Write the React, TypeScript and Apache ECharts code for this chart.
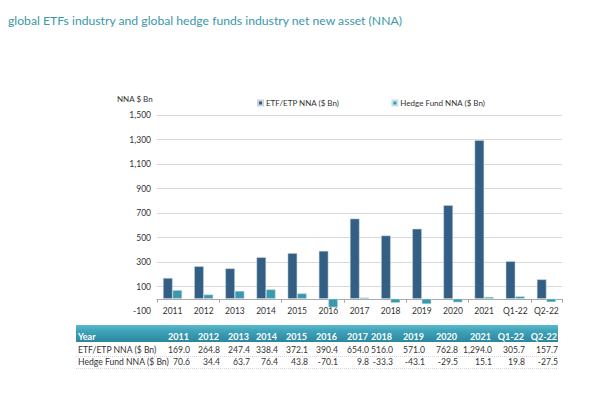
import React, { useEffect, useRef } from "react";
import * as echarts from "echarts";

const categories = ["2011", "2012", "2013", "2014", "2015", "2016", "2017", "2018", "2019", "2020", "2021", "Q1-22", "Q2-22"];
const etfValues = [169.0, 264.8, 247.4, 338.4, 372.1, 390.4, 654.0, 516.0, 571.0, 762.8, 1294.0, 305.7, 157.7];
const hedgeValues = [70.6, 34.4, 63.7, 76.4, 43.8, -70.1, 9.8, -33.3, -43.1, -29.5, 15.1, 19.8, -27.5];
const seriesNames = ["ETF/ETP NNA ($ Bn)", "Hedge Fund NNA ($ Bn)"];
const yTicks = [-100, 100, 300, 500, 700, 900, 1100, 1300, 1500];

// table layout (right edges of columns)
const colRight = [189, 219, 249, 277, 307, 337, 368, 392, 424, 457, 491, 524, 557];

const FONT = "Lato";
const ETF_COLOR = "#345f84";
const HEDGE_COLOR = "#3e98ad";
const TITLE_COLOR = "#3b97aa";

function fmt(v: number) {
  return v.toLocaleString("en-US", { minimumFractionDigits: 1, maximumFractionDigits: 1 });
}

export default function App() {
  const ref = useRef<HTMLDivElement>(null);
  useEffect(() => {
    if (!ref.current) return;
    const chart = echarts.init(ref.current, null, { renderer: "svg" });

    const graphics: any[] = [];
    graphics.push({
      type: "text",
      x: 8,
      y: 20,
      style: { text: "global ETFs industry and global hedge funds industry net new asset (NNA)", fill: TITLE_COLOR, font: `12.2px ${FONT}`, verticalAlign: "middle" },
    });
    graphics.push({
      type: "text",
      x: 117,
      y: 99,
      style: { text: "NNA $ Bn", fill: "#333", font: `8px ${FONT}`, verticalAlign: "middle" },
    });
    // table header bar
    graphics.push({
      type: "rect",
      shape: { x: 76, y: 325, width: 482, height: 17 },
      style: {
        fill: new echarts.graphic.LinearGradient(0, 0, 0, 1, [
          { offset: 0, color: "#5ab9cc" },
          { offset: 0.35, color: "#3fa3ba" },
          { offset: 1, color: "#2a879e" },
        ]),
      },
    });
    graphics.push({
      type: "text",
      x: 78,
      y: 336,
      style: { text: "Year", fill: "#fff", font: `bold 9px ${FONT}`, verticalAlign: "middle" },
    });
    const rows = [
      { label: seriesNames[0], values: etfValues, y: 350 },
      { label: seriesNames[1], values: hedgeValues, y: 362 },
    ];
    categories.forEach((c, i) => {
      graphics.push({
        type: "text",
        x: colRight[i],
        y: 336,
        style: { text: c, fill: "#fff", font: `bold 9px ${FONT}`, align: "right", verticalAlign: "middle" },
      });
    });
    rows.forEach((r) => {
      graphics.push({
        type: "text",
        x: 78,
        y: r.y,
        style: { text: r.label, fill: "#333", font: `8.6px ${FONT}`, verticalAlign: "middle" },
      });
      r.values.forEach((v, i) => {
        graphics.push({
          type: "text",
          x: colRight[i] + 1,
          y: r.y,
          style: { text: fmt(v), fill: "#333", font: `8.6px ${FONT}`, align: "right", verticalAlign: "middle" },
        });
      });
      graphics.push({
        type: "line",
        shape: { x1: 76, y1: r.y + 6.5, x2: 558, y2: r.y + 6.5 },
        style: { stroke: "#bbb", lineWidth: 0.6, lineDash: [1, 1] },
      });
    });

    chart.setOption({
      animation: false,
      backgroundColor: "#fff",
      textStyle: { fontFamily: FONT },
      legend: {
        top: 94,
        left: 252,
        itemWidth: 5,
        itemHeight: 5,
        itemGap: 52,
        icon: "rect",
        textStyle: { fontSize: 8, color: "#333", fontFamily: FONT, padding: [0, 0, 0, -2] },
        data: seriesNames,
      },
      grid: { left: 157, right: 38, top: 115, bottom: 397 - 311 },
      xAxis: [
        {
          type: "category",
          data: categories,
          position: "bottom",
          axisLine: { onZero: true, lineStyle: { color: "#aaa", width: 1 } },
          axisTick: { show: true, length: 4, lineStyle: { color: "#aaa" } },
          axisLabel: { show: false },
          splitLine: { show: false },
        },
        {
          type: "category",
          data: categories,
          position: "bottom",
          axisLine: { show: false, onZero: false },
          axisTick: { show: false },
          axisLabel: { fontSize: 8.5, color: "#333", margin: -5, fontFamily: FONT, interval: 0 },
          splitLine: { show: false },
        },
      ],
      yAxis: {
        type: "value",
        min: yTicks[0],
        max: yTicks[yTicks.length - 1],
        interval: 200,
        axisLine: { show: false },
        axisTick: { show: false },
        axisLabel: {
          fontSize: 8.5,
          color: "#333",
          margin: 6,
          fontFamily: FONT,
          formatter: (v: number) => v.toLocaleString("en-US"),
        },
        splitLine: {
          show: true,
          showMinLine: false,
          lineStyle: { color: "#d9d9d9", width: 1 },
        },
      },
      series: [
        {
          name: seriesNames[0],
          type: "bar",
          data: etfValues,
          barWidth: 9.5,
          barGap: "0%",
          itemStyle: { color: ETF_COLOR, borderColor: "#c8d4e0", borderWidth: 0.5 },
        },
        {
          name: seriesNames[1],
          type: "bar",
          data: hedgeValues,
          barWidth: 9.5,
          barGap: "0%",
          itemStyle: { color: HEDGE_COLOR, borderColor: "#c8e4ea", borderWidth: 0.5 },
        },
      ],
      graphic: graphics,
    });
    return () => chart.dispose();
  }, []);
  return <div ref={ref} style={{ width: 600, height: 397, position: "absolute", left: 0, top: 0 }} />;
}
